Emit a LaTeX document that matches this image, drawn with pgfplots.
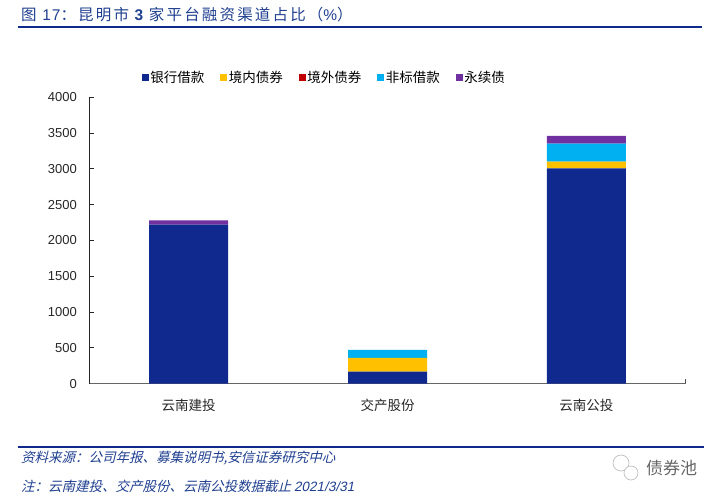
\documentclass[border=0pt]{standalone}
\usepackage{fontspec}
\usepackage{pgfplots}
\pgfplotsset{compat=1.18}
\setmainfont{Liberation Sans}
\newfontfamily\cjk{Noto Sans CJK SC}
\newfontfamily\cjktitle[LetterSpace=14]{Noto Sans CJK SC}
\newfontfamily\lattitle[LetterSpace=6]{Liberation Sans}
\newfontfamily\cjkit[FakeSlant=0.25]{Noto Sans CJK SC}
\newfontfamily\latit[FakeSlant=0.2]{Liberation Sans}
\definecolor{headblue}{HTML}{1F3F8F}
\definecolor{ruleblue}{HTML}{0F2A8A}
\definecolor{bank}{HTML}{10298E}
\definecolor{inner}{HTML}{FFC000}
\definecolor{outer}{HTML}{C00000}
\definecolor{nonstd}{HTML}{00B0F0}
\definecolor{perp}{HTML}{7030A0}
\pgfplotstableread{
x bank inner outer nonstd perp
0 2220 0 0 0 60
1 170 190 0 112 0
2 3008 93 0 251 108
}\platforms
\pgfplotsset{
  sqleg/.style={legend image code/.code={
    \fill[#1] (0pt,-3.5pt) rectangle (7pt,3.5pt);}},
}
\newcommand{\legcell}[1]{\makebox[68.5pt][l]{#1}}
\begin{document}
\begin{tikzpicture}[x=1pt,y=1pt]
\path (0,0) rectangle (719,500);
% header and footer rules
\draw[ruleblue,line width=1.2pt] (18,473) -- (702,473);
\draw[ruleblue,line width=1.2pt] (18,53) -- (704,53);
\node[anchor=west,text=headblue,font=\fontsize{15.5}{15.5}\selectfont\cjktitle,inner sep=0pt] at (21,485)
  {图 {\lattitle 17}：昆明市 {\lattitle\bfseries 3} 家平台融资渠道占比（{\lattitle\%}）};
\begin{axis}[
  at={(89.3pt,116.3pt)},anchor=south west,
  scale only axis,width=596.4pt,height=286.4pt,
  ybar stacked,bar width=79pt,
  xmin=-0.5,xmax=2.5,ymin=0,ymax=4000,
  axis x line*=bottom,axis y line*=left,
  x axis line style={color=black!60,line width=1pt,-},
  y axis line style={color=black!85,line width=0.8pt,-},
  % end tick only; the categories come in as zero-length extra ticks
  xtick={2.5},xticklabels={},
  xtick align=inside,
  xtick style={color=black!70,line width=0.8pt},
  extra x ticks={0,1,2},
  extra x tick labels={\cjk 云南建投,\cjk 交产股份,\cjk 云南公投},
  extra x tick style={major tick length=0pt},
  x tick label style={font=\fontsize{13.5}{13.5}\selectfont,text=black!85,yshift=-12pt},
  ytick={0,500,...,4000},
  y tick label style={font=\fontsize{13}{13}\selectfont,text=black!85,xshift=-9pt},
  /pgf/number format/assume math mode=true,
  /pgf/number format/set thousands separator={},
  ytick style={color=black!85,line width=0.8pt},
  ytick align=inside,major tick length=5pt,
  legend style={draw=none,fill=none,font=\fontsize{13.5}{13.5}\selectfont\cjk,
    legend columns=-1,/tikz/every even column/.append style={column sep=0pt},
    at={(axis description cs:0.0877,1.0675)},anchor=west,inner sep=0pt,
    nodes={inner xsep=1.5pt,inner ysep=0pt}},
  legend cell align=left,
]
\addplot[fill=bank,draw=none,sqleg=bank] table[x=x,y=bank] {\platforms};
\addlegendentry{\legcell{银行借款}}
\addplot[fill=inner,draw=none,sqleg=inner] table[x=x,y=inner] {\platforms};
\addlegendentry{\legcell{境内债券}}
\addplot[fill=outer,draw=none,sqleg=outer] table[x=x,y=outer] {\platforms};
\addlegendentry{\legcell{境外债券}}
\addplot[fill=nonstd,draw=none,sqleg=nonstd] table[x=x,y=nonstd] {\platforms};
\addlegendentry{\legcell{非标借款}}
\addplot[fill=perp,draw=none,sqleg=perp] table[x=x,y=perp] {\platforms};
\addlegendentry{永续债}
\end{axis}
% notes
\node[anchor=west,text=headblue,inner sep=0pt,font=\fontsize{13.5}{13.5}\selectfont\cjkit] at (21,42) {资料来源：公司年报、募集说明书,安信证券研究中心};
\node[anchor=west,text=headblue,inner sep=0pt,font=\fontsize{13.5}{13.5}\selectfont\cjkit] at (21,14) {注：云南建投、交产股份、云南公投数据截止 {\latit 2021/3/31}};
% watermark
\node[anchor=west,text=black!60,inner sep=0pt,font=\fontsize{17}{17}\selectfont\cjk] at (646,32) {债券池};
\draw[black!25,line width=0.7pt,fill=white] (621,37) circle (8pt);
\draw[black!25,line width=0.7pt,fill=white] (631,27) circle (7pt);
\end{tikzpicture}
\end{document}
